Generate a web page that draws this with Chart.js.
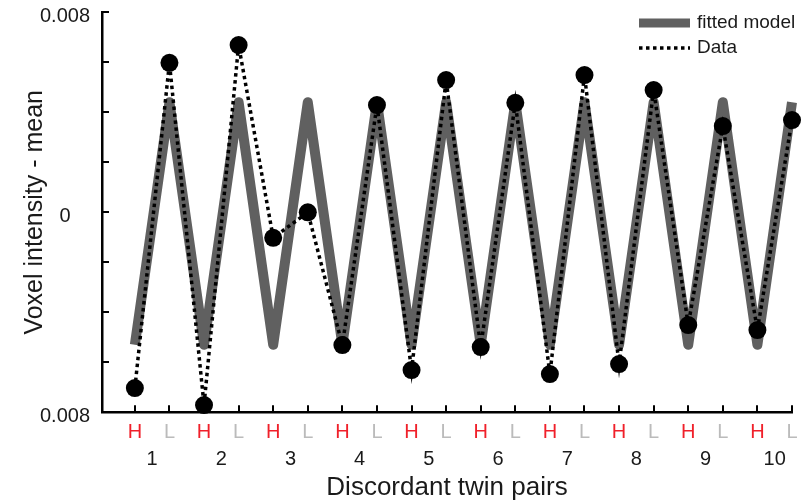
<!DOCTYPE html>
<html>
<head>
<meta charset="utf-8">
<script src="https://cdn.jsdelivr.net/npm/chart.js@4"></script>
<style>
  html, body { margin: 0; padding: 0; background: #ffffff; }
  canvas { display: block; }
</style>
</head>
<body>
<canvas id="chart" width="810" height="503"></canvas>
<script>
// Twin pair numbers and the H/L member of each pair along the x axis
const pairLabels = ['1', '2', '3', '4', '5', '6', '7', '8', '9', '10'];
const conditionLabels = ['H', 'L', 'H', 'L', 'H', 'L', 'H', 'L', 'H', 'L',
                         'H', 'L', 'H', 'L', 'H', 'L', 'H', 'L', 'H', 'L'];

// Fitted model and measured voxel intensity (minus the mean), one value per H/L position
const fittedModel = [-0.0053, 0.0044, -0.0053, 0.0044, -0.0053, 0.0044, -0.0053, 0.0044, -0.0053, 0.0044,
                     -0.0053, 0.0044, -0.0053, 0.0044, -0.0053, 0.0044, -0.0053, 0.0044, -0.0053, 0.0044];
const dataValues = [-0.00703, 0.00598, -0.00771, 0.00669, -0.00102, 0.0000, -0.00531, 0.00429, -0.00631, 0.00529,
                    -0.00539, 0.00438, -0.00647, 0.00549, -0.00607, 0.00489, -0.00451, 0.00345, -0.00471, 0.00369];

// Labelled y ticks
const yLabelValues = [0.008, 0, -0.008];
const yLabelTexts = ['0.008', '0', '0.008'];

const FONT = "'Liberation Sans', Arial, Helvetica, sans-serif";
const TEXT = '#1a1a1a';
const GRAY = '#606060';
const RED = '#f0202a';
const LIGHT = '#bbbbbb';

const toPoints = arr => arr.map((v, i) => ({ x: i + 1, y: v }));

// Short tick marks pointing into the plot area
const inwardTicks = {
  id: 'inwardTicks',
  afterDraw(chart) {
    const { ctx, chartArea, scales } = chart;
    ctx.save();
    ctx.strokeStyle = '#000';
    ctx.lineWidth = 2;
    scales.x.ticks.forEach(t => {
      const px = Math.round(scales.x.getPixelForValue(t.value));
      ctx.beginPath();
      ctx.moveTo(px, chartArea.bottom);
      ctx.lineTo(px, chartArea.bottom - 7);
      ctx.stroke();
    });
    scales.y.ticks.forEach(t => {
      const py = Math.round(scales.y.getPixelForValue(t.value));
      ctx.beginPath();
      ctx.moveTo(chartArea.left, py);
      ctx.lineTo(chartArea.left + 7, py);
      ctx.stroke();
    });
    ctx.restore();
  }
};

// Legend in the upper right corner of the plot, using each dataset's line style
const cornerLegend = {
  id: 'cornerLegend',
  afterDraw(chart) {
    const { ctx } = chart;
    const x0 = 639, x1 = 690, textX = 697;
    const rows = [23, 48];
    ctx.save();
    chart.data.datasets.forEach((ds, i) => {
      const y = rows[i];
      ctx.beginPath();
      ctx.strokeStyle = ds.borderColor;
      ctx.lineWidth = i === 0 ? 9 : ds.borderWidth;
      ctx.lineCap = 'butt';
      ctx.setLineDash(ds.borderDash || []);
      ctx.moveTo(x0, y);
      ctx.lineTo(x1, y);
      ctx.stroke();
      ctx.setLineDash([]);
      ctx.fillStyle = TEXT;
      ctx.font = '19px ' + FONT;
      ctx.textAlign = 'left';
      ctx.textBaseline = 'middle';
      ctx.fillText(ds.label, textX, y);
    });
    ctx.restore();
  }
};

new Chart(document.getElementById('chart'), {
  type: 'line',
  data: {
    datasets: [
      {
        label: 'fitted model',
        data: toPoints(fittedModel),
        borderColor: GRAY,
        borderWidth: 10,
        borderJoinStyle: 'round',
        borderCapStyle: 'butt',
        pointRadius: 0,
        tension: 0,
        clip: false,
        order: 2
      },
      {
        label: 'Data',
        data: toPoints(dataValues),
        borderColor: '#000000',
        borderWidth: 3.5,
        borderDash: [3.5, 3.5],
        pointRadius: 9,
        pointBackgroundColor: '#000000',
        pointBorderColor: '#000000',
        pointBorderWidth: 0,
        tension: 0,
        clip: false,
        order: 1
      }
    ]
  },
  options: {
    responsive: false,
    animation: false,
    devicePixelRatio: 1,
    layout: { padding: { top: 12.3, right: 18, left: 0, bottom: 0 } },
    plugins: {
      legend: { display: false },
      tooltip: { enabled: false }
    },
    scales: {
      x: {
        type: 'linear',
        position: 'bottom',
        weight: 0,
        min: 0.05,
        max: 20,
        afterBuildTicks: scale => {
          scale.ticks = conditionLabels.map((_, i) => ({ value: i + 1 }));
        },
        afterFit: scale => {
          scale.height = 32;
          scale.paddingLeft = 0;
          scale.paddingRight = 0;
        },
        grid: { display: false, drawTicks: false },
        border: { display: true, color: '#000', width: 2.5 },
        ticks: {
          autoSkip: false,
          maxRotation: 0,
          padding: 8,
          font: { family: FONT, size: 20 },
          color: ctx => conditionLabels[ctx.index] === 'H' ? RED : LIGHT,
          callback: (value, index) => conditionLabels[index]
        }
      },
      pairs: {
        type: 'linear',
        axis: 'x',
        position: 'bottom',
        weight: 1,
        min: 0.05,
        max: 20,
        afterBuildTicks: scale => {
          scale.ticks = pairLabels.map((_, i) => ({ value: 2 * i + 1.5 }));
        },
        afterFit: scale => {
          scale.height = 58.7;
          scale.paddingLeft = 0;
          scale.paddingRight = 0;
        },
        grid: { display: false, drawTicks: false },
        border: { display: false },
        ticks: {
          autoSkip: false,
          maxRotation: 0,
          padding: 3,
          font: { family: FONT, size: 20 },
          color: TEXT,
          callback: (value, index) => pairLabels[index]
        },
        title: {
          display: true,
          text: 'Discordant twin pairs',
          color: TEXT,
          font: { family: FONT, size: 26 },
          padding: { top: 0, bottom: 0 }
        }
      },
      y: {
        type: 'linear',
        position: 'left',
        min: -0.008,
        max: 0.008,
        afterFit: scale => {
          scale.width = 102;
          scale.paddingTop = 0;
          scale.paddingBottom = 0;
        },
        grid: { display: false, drawTicks: false },
        border: { display: true, color: '#000', width: 2.5 },
        ticks: {
          stepSize: 0.002,
          autoSkip: false,
          padding: 12,
          crossAlign: 'center',
          labelOffset: 4,
          font: { family: FONT, size: 20 },
          color: TEXT,
          callback: value => {
            const k = yLabelValues.findIndex(v => Math.abs(v - value) < 1e-9);
            return k >= 0 ? yLabelTexts[k] : '';
          }
        },
        title: {
          display: true,
          text: 'Voxel intensity - mean',
          color: TEXT,
          font: { family: FONT, size: 25 },
          padding: { top: 20, bottom: 0 }
        }
      }
    }
  },
  plugins: [inwardTicks, cornerLegend]
});
</script>
</body>
</html>
